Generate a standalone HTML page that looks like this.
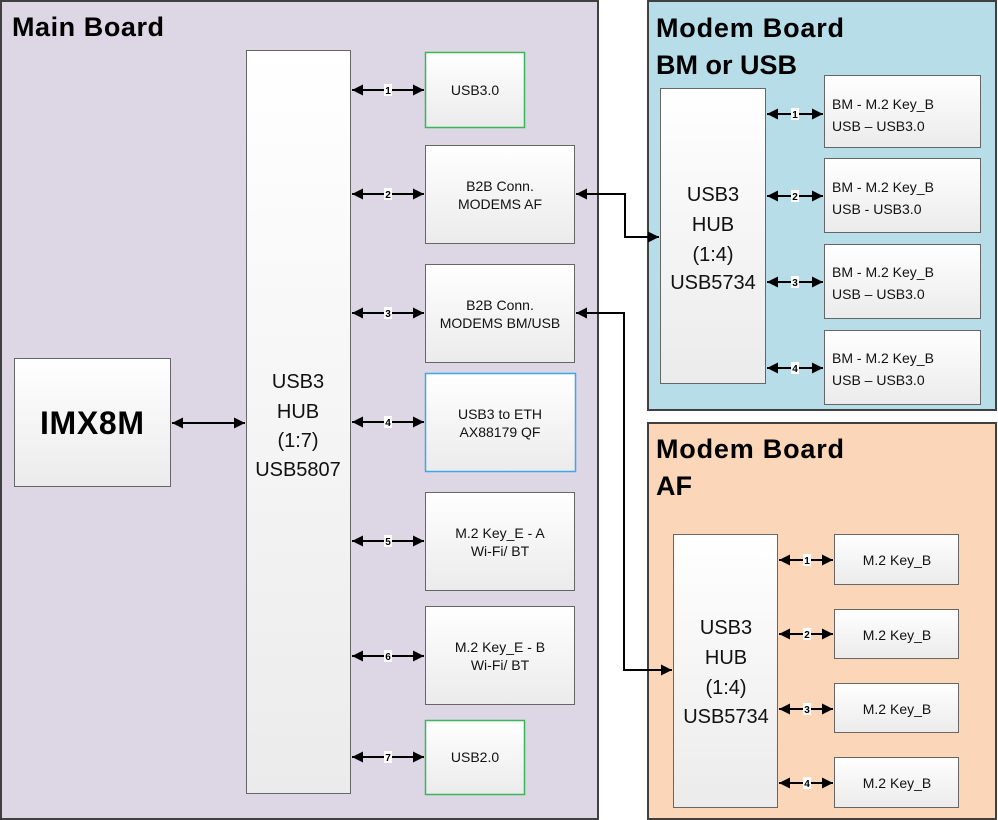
<!DOCTYPE html>
<html><head><meta charset="utf-8"><style>
html,body{margin:0;padding:0;background:#fff;}
svg{display:block;font-family:"Liberation Sans",sans-serif;}
</style></head><body>
<svg width="998" height="820" viewBox="0 0 998 820" xmlns="http://www.w3.org/2000/svg">
<defs>
<linearGradient id="g" x1="0" y1="0" x2="0" y2="1">
<stop offset="0" stop-color="#ffffff"/><stop offset="1" stop-color="#ebebeb"/>
</linearGradient>
<marker id="a" viewBox="0 0 10 10" refX="10" refY="5" markerWidth="6" markerHeight="5.5" orient="auto-start-reverse">
<path d="M0,0 L10,5 L0,10 z" fill="#000"/>
</marker>
</defs>
<!-- boards -->
<rect x="1" y="1" width="597" height="818" fill="#ddd6e5" stroke="#404040" stroke-width="2"/>
<rect x="648" y="1" width="348" height="409" fill="#b7dde8" stroke="#404040" stroke-width="2"/>
<rect x="648" y="423" width="348" height="396" fill="#fbd6b8" stroke="#404040" stroke-width="2"/>
<g font-weight="bold" font-size="27" fill="#000">
<text x="12" y="36" textLength="152">Main Board</text>
<text x="656" y="37" textLength="188">Modem Board</text>
<text x="656" y="74" textLength="141">BM or USB</text>
<text x="656" y="458" textLength="188">Modem Board</text>
<text x="656" y="495">AF</text>
</g>
<!-- IMX -->
<rect x="14.5" y="358.5" width="156" height="128" fill="url(#g)" stroke="#666"/>
<text x="92" y="434" text-anchor="middle" font-weight="bold" font-size="32" textLength="104">IMX8M</text>
<!-- main hub -->
<rect x="246.5" y="50.5" width="104" height="743" fill="url(#g)" stroke="#666"/>
<g font-size="20" text-anchor="middle" fill="#111">
<text x="298" y="388">USB3</text><text x="298" y="418">HUB</text><text x="298" y="447">(1:7)</text><text x="298" y="476">USB5807</text>
</g>
<line x1="172" y1="423" x2="245" y2="423" stroke="#000" stroke-width="2" marker-start="url(#a)" marker-end="url(#a)"/>
<!-- main right boxes -->
<g stroke="#666" fill="url(#g)">
<rect x="425.5" y="52.5" width="99" height="75" stroke="#3cb45a" stroke-width="1.5"/>
<rect x="425.5" y="145.5" width="149" height="98"/>
<rect x="425.5" y="264.5" width="149" height="98"/>
<rect x="425.5" y="373.5" width="150" height="98" stroke="#3ea8e0" stroke-width="1.5"/>
<rect x="425.5" y="492.5" width="149" height="98"/>
<rect x="425.5" y="606.5" width="149" height="98"/>
<rect x="425.5" y="720.5" width="99" height="74" stroke="#3cb45a" stroke-width="1.5"/>
</g>
<g font-size="14" text-anchor="middle" fill="#111">
<text x="475" y="95">USB3.0</text>
<text x="500" y="191">B2B Conn.</text><text x="500" y="209">MODEMS AF</text>
<text x="500" y="310">B2B Conn.</text><text x="500" y="328">MODEMS BM/USB</text>
<text x="500" y="419">USB3 to ETH</text><text x="500" y="437">AX88179 QF</text>
<text x="500" y="538">M.2 Key_E - A</text><text x="500" y="556">Wi-Fi/ BT</text>
<text x="500" y="652">M.2 Key_E - B</text><text x="500" y="670">Wi-Fi/ BT</text>
<text x="475" y="762">USB2.0</text>
</g>
<!-- main arrows -->
<g stroke="#000" stroke-width="2" marker-start="url(#a)" marker-end="url(#a)">
<line x1="352" y1="90" x2="424" y2="90"/>
<line x1="352" y1="194" x2="424" y2="194"/>
<line x1="352" y1="313" x2="424" y2="313"/>
<line x1="352" y1="422" x2="424" y2="422"/>
<line x1="352" y1="541" x2="424" y2="541"/>
<line x1="352" y1="656" x2="424" y2="656"/>
<line x1="352" y1="757" x2="424" y2="757"/>
</g>
<g font-size="10" font-weight="bold" text-anchor="middle">
<g fill="#fff"><rect x="384" y="84" width="8" height="12"/><rect x="384" y="188" width="8" height="12"/><rect x="384" y="307" width="8" height="12"/><rect x="384" y="416" width="8" height="12"/><rect x="384" y="535" width="8" height="12"/><rect x="384" y="650" width="8" height="12"/><rect x="384" y="751" width="8" height="12"/></g>
<text x="388" y="94">1</text><text x="388" y="198">2</text><text x="388" y="317">3</text><text x="388" y="426">4</text><text x="388" y="545">5</text><text x="388" y="660">6</text><text x="388" y="761">7</text>
</g>
<!-- BM hub -->
<rect x="660.5" y="88.5" width="105" height="295" fill="url(#g)" stroke="#666"/>
<g font-size="20" text-anchor="middle" fill="#111">
<text x="713" y="201">USB3</text><text x="713" y="231">HUB</text><text x="713" y="261">(1:4)</text><text x="713" y="289">USB5734</text>
</g>
<g stroke="#666" fill="url(#g)">
<rect x="824.5" y="75.5" width="156" height="72"/>
<rect x="824.5" y="158.5" width="156" height="74"/>
<rect x="824.5" y="244.5" width="156" height="74"/>
<rect x="824.5" y="330.5" width="156" height="74"/>
</g>
<g font-size="14" fill="#111">
<text x="832" y="109">BM - M.2 Key_B</text><text x="832" y="131">USB – USB3.0</text>
<text x="832" y="192">BM -  M.2 Key_B</text><text x="832" y="214">USB - USB3.0</text>
<text x="832" y="277">BM - M.2 Key_B</text><text x="832" y="299">USB – USB3.0</text>
<text x="832" y="363">BM - M.2 Key_B</text><text x="832" y="385">USB – USB3.0</text>
</g>
<g stroke="#000" stroke-width="2" marker-start="url(#a)" marker-end="url(#a)">
<line x1="767" y1="114" x2="823" y2="114"/>
<line x1="767" y1="196" x2="823" y2="196"/>
<line x1="767" y1="282" x2="823" y2="282"/>
<line x1="767" y1="368" x2="823" y2="368"/>
</g>
<g font-size="10" font-weight="bold" text-anchor="middle">
<g fill="#fff"><rect x="791" y="108" width="8" height="12"/><rect x="791" y="190" width="8" height="12"/><rect x="791" y="276" width="8" height="12"/><rect x="791" y="362" width="8" height="12"/></g>
<text x="795" y="118">1</text><text x="795" y="200">2</text><text x="795" y="286">3</text><text x="795" y="372">4</text>
</g>
<!-- AF hub -->
<rect x="673.5" y="534.5" width="104" height="273" fill="url(#g)" stroke="#666"/>
<g font-size="20" text-anchor="middle" fill="#111">
<text x="726" y="634">USB3</text><text x="726" y="664">HUB</text><text x="726" y="694">(1:4)</text><text x="726" y="723">USB5734</text>
</g>
<g stroke="#666" fill="url(#g)">
<rect x="834.5" y="534.5" width="124" height="50"/>
<rect x="834.5" y="609.5" width="124" height="49"/>
<rect x="834.5" y="683.5" width="124" height="49"/>
<rect x="834.5" y="757.5" width="124" height="50"/>
</g>
<g font-size="14" text-anchor="middle" fill="#111">
<text x="897" y="565">M.2 Key_B</text><text x="897" y="640">M.2 Key_B</text><text x="897" y="714">M.2 Key_B</text><text x="897" y="788">M.2 Key_B</text>
</g>
<g stroke="#000" stroke-width="2" marker-start="url(#a)" marker-end="url(#a)">
<line x1="779" y1="560" x2="833" y2="560"/>
<line x1="779" y1="634" x2="833" y2="634"/>
<line x1="779" y1="709" x2="833" y2="709"/>
<line x1="779" y1="783" x2="833" y2="783"/>
</g>
<g font-size="10" font-weight="bold" text-anchor="middle">
<g fill="#fff"><rect x="803" y="554" width="8" height="12"/><rect x="803" y="628" width="8" height="12"/><rect x="803" y="703" width="8" height="12"/><rect x="803" y="777" width="8" height="12"/></g>
<text x="807" y="564">1</text><text x="807" y="638">2</text><text x="807" y="713">3</text><text x="807" y="787">4</text>
</g>
<!-- connectors -->
<g stroke="#000" stroke-width="2" fill="none">
<polyline points="576,194 625,194 625,237 659,237" marker-start="url(#a)" marker-end="url(#a)"/>
<polyline points="576,313 624,313 624,670 672,670" marker-start="url(#a)" marker-end="url(#a)"/>
</g>
</svg>
</body></html>
